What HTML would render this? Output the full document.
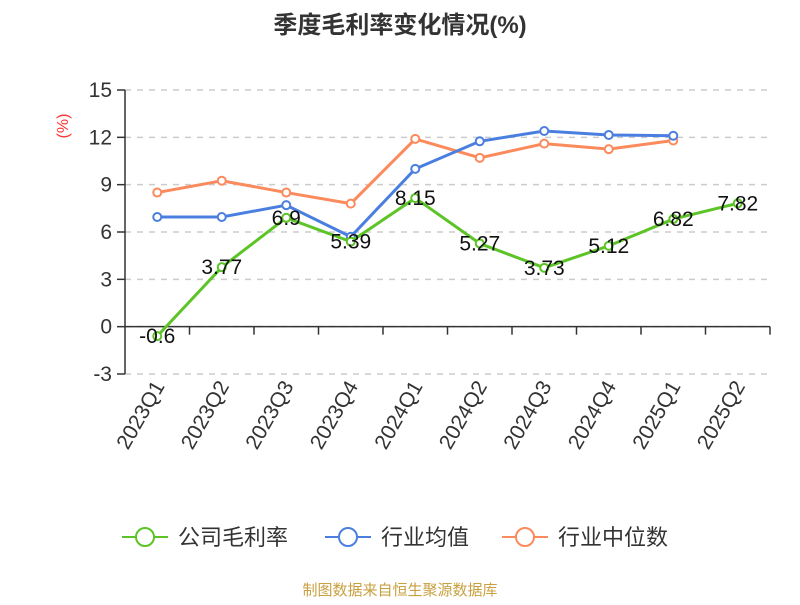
<!DOCTYPE html>
<html><head><meta charset="utf-8"><style>
body{margin:0;background:#fff;width:800px;height:600px;overflow:hidden;font-family:"Liberation Sans","Noto Sans CJK SC",sans-serif}
</style></head><body>
<svg id="c" width="800" height="600" xmlns="http://www.w3.org/2000/svg">
<text x="400" y="33" text-anchor="middle" font-size="24" font-weight="bold" fill="#333" font-family="Liberation Sans,Noto Sans CJK SC,sans-serif">季度毛利率变化情况(%)</text>
<text transform="translate(68,126) rotate(-90)" text-anchor="middle" font-size="16" fill="#f33">(%)</text>
<g id="grid"></g><g id="series"></g>
<text x="400" y="595" text-anchor="middle" font-size="15" fill="#c8a040" font-family="Liberation Sans,Noto Sans CJK SC,sans-serif">制图数据来自恒生聚源数据库</text>
</svg>
<script>
const categories=["2023Q1","2023Q2","2023Q3","2023Q4","2024Q1","2024Q2","2024Q3","2024Q4","2025Q1","2025Q2"];
const companyValues=[-0.6,3.77,6.9,5.39,8.15,5.27,3.73,5.12,6.82,7.82];
const industryAvg=[6.95,6.95,7.7,5.7,10.0,11.75,12.4,12.15,12.1];
const industryMedian=[8.5,9.25,8.5,7.8,11.9,10.7,11.6,11.25,11.8];
const yTicks=[-3,0,3,6,9,12,15];
const seriesNames=["公司毛利率","行业均值","行业中位数"];
const NS="http://www.w3.org/2000/svg";
const L=125,R=770,T=90,B=374,ymin=-3,ymax=15;
const bw=(R-L)/categories.length;
const xs=i=>L+bw*(i+0.5);
const ys=v=>B-(v-ymin)/(ymax-ymin)*(B-T);
function mk(t,a,p){const e=document.createElementNS(NS,t);for(const k in a)e.setAttribute(k,a[k]);p.appendChild(e);return e;}
const g=document.getElementById('grid'),s=document.getElementById('series'),svg=document.getElementById('c');
yTicks.forEach(v=>{
 const y=ys(v);
 const gl=mk('line',{x1:L,x2:R,y1:y,y2:y,stroke:'#ccc','stroke-dasharray':'6,6','stroke-width':1.5},g);
 
 
 mk('line',{x1:L-8,x2:L,y1:y,y2:y,stroke:'#333','stroke-width':1.5},g);
 const t=mk('text',{x:L-13,y:y+7,'text-anchor':'end','font-size':21,fill:'#333'},g);t.textContent=v;
 
 
});
mk('line',{x1:L,x2:L,y1:T,y2:B,stroke:'#333','stroke-width':1.5},g);
mk('line',{x1:L,x2:R,y1:ys(0),y2:ys(0),stroke:'#333','stroke-width':1.5},g);
categories.forEach((c,i)=>{
 const bx=L+bw*(i+1);
 mk('line',{x1:bx,x2:bx,y1:ys(0),y2:ys(0)+8,stroke:'#333','stroke-width':1.5},g);
 const t=mk('text',{transform:`translate(${xs(i)+8},${B+12}) rotate(-60)`,'text-anchor':'end','font-size':21,fill:'#333'},g);t.textContent=c;
 
 
});
function line(vals,color,name,labels){
 const pts=vals.map((v,i)=>xs(i)+','+ys(v)).join(' ');
 const pl=mk('polyline',{points:pts,fill:'none',stroke:color,'stroke-width':3},s);
 
 
 vals.forEach((v,i)=>{
  const c=mk('circle',{cx:xs(i),cy:ys(v),r:4,fill:'#fff',stroke:color,'stroke-width':2},s);
  
  
 });
 if(labels)vals.forEach((v,i)=>{
  const t=mk('text',{x:xs(i),y:ys(v)+7,'text-anchor':'middle','font-size':21,fill:'#111'},s);t.textContent=v;
  
  
 });
}
line(industryMedian,'#fb8a5c','industry-median',false);
line(industryAvg,'#4a7fe0','industry-average',false);
line(companyValues,'#5cc426','company',true);
const lg=[['#5cc426',122],['#4a7fe0',325],['#fb8a5c',502]];
lg.forEach((l,i)=>{
 const gg=mk('g',{},svg);
 
 
 mk('line',{x1:l[1],x2:l[1]+46,y1:537,y2:537,stroke:l[0],'stroke-width':2},gg);
 mk('circle',{cx:l[1]+23,cy:537,r:9,fill:'#fff',stroke:l[0],'stroke-width':2},gg);
 const t=mk('text',{x:l[1]+56,y:545,'font-size':22,fill:'#333','font-family':'Liberation Sans,Noto Sans CJK SC,sans-serif'},gg);t.textContent=seriesNames[i];
});
</script>
</body></html>
